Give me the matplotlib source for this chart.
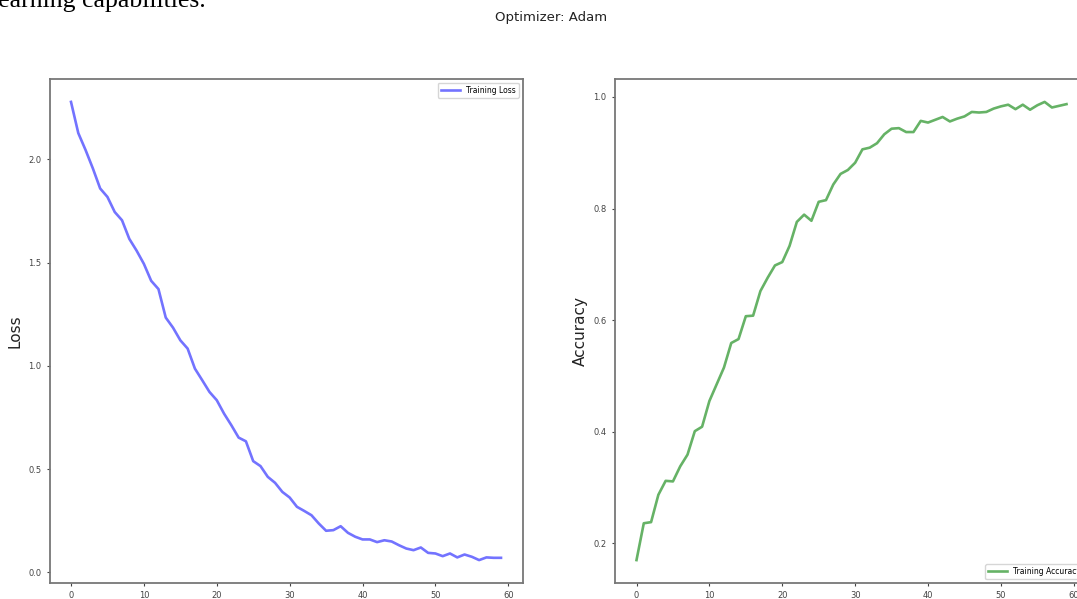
import matplotlib
matplotlib.use("Agg")
import matplotlib.pyplot as plt

# training history (60 epochs)
epochs = list(range(60))

train_loss = [2.278, 2.127, 2.045, 1.956, 1.859, 1.818, 1.745, 1.705, 1.615, 1.558,
              1.494, 1.412, 1.372, 1.234, 1.185, 1.124, 1.084, 0.987, 0.931, 0.874,
              0.834, 0.769, 0.713, 0.653, 0.635, 0.539, 0.515, 0.463, 0.434, 0.390,
              0.363, 0.318, 0.298, 0.277, 0.237, 0.202, 0.205, 0.224, 0.192, 0.173,
              0.160, 0.160, 0.147, 0.156, 0.150, 0.132, 0.116, 0.108, 0.121, 0.095,
              0.092, 0.079, 0.092, 0.073, 0.087, 0.076, 0.060, 0.073, 0.071, 0.071]

train_acc = [0.170, 0.236, 0.238, 0.287, 0.312, 0.311, 0.338, 0.359, 0.401, 0.409,
             0.455, 0.485, 0.515, 0.559, 0.566, 0.607, 0.608, 0.652, 0.676, 0.698,
             0.704, 0.733, 0.776, 0.789, 0.778, 0.812, 0.815, 0.843, 0.862, 0.869,
             0.882, 0.906, 0.909, 0.917, 0.933, 0.943, 0.944, 0.937, 0.937, 0.957,
             0.954, 0.959, 0.964, 0.956, 0.961, 0.965, 0.973, 0.972, 0.973, 0.979,
             0.983, 0.986, 0.978, 0.986, 0.977, 0.985, 0.991, 0.981, 0.984, 0.987]

W, H = 1077, 599
fig = plt.figure(figsize=(W / 100, H / 100), dpi=100)

# bit of the surrounding document text, cut off at the top and left
fig.text(-9 / W, 1 - 7 / H, "learning capabilities.", family="Liberation Serif",
         fontsize=18.5, va="baseline", ha="left")

fig.text(551 / W, 1 - 18 / H, "Optimizer: Adam", fontsize=9.5, color="#222222",
         ha="center", va="center")

bottom = 1 - 583 / H
height = 504 / H
width = 473 / W

ax1 = fig.add_axes([49.5 / W, bottom, width, height])
ax1.plot(epochs, train_loss, color="blue", alpha=0.55, lw=1.9, label="Training Loss")
ax1.set_ylabel("Loss", fontsize=11, color="#222222")
ax1.legend(loc="upper right", fontsize=5.5, handlelength=2.5)

ax2 = fig.add_axes([615 / W, bottom, width, height])
ax2.plot(epochs, train_acc, color="green", alpha=0.6, lw=1.9, label="Training Accuracy")
ax2.set_ylabel("Accuracy", fontsize=11, color="#222222")
ax2.legend(loc="lower right", fontsize=5.5, handlelength=2.5)

for ax in (ax1, ax2):
    ax.tick_params(labelsize=6, colors="#444444", length=2.5)
    for sp in ax.spines.values():
        sp.set_color("#777777")
        sp.set_linewidth(1.3)

fig.savefig("out.png", dpi=100)
